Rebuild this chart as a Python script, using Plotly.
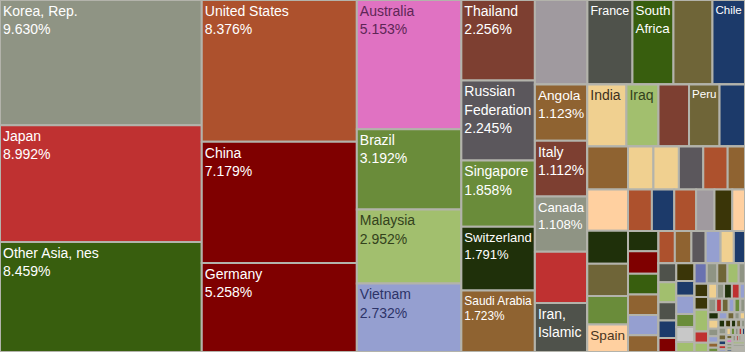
import plotly.graph_objects as go

# ---------------- data ----------------
# layout groups (strips of the treemap) and their parents
group_ids = ["root", "C1", "C2", "C3", "C4", "R", "T", "B", "A", "B2", "R2", "B3",
             "C5", "B4", "R3", "R4", "B5", "C6", "B6", "R5", "B7", "C7", "C8", "B9",
             "R6", "B10", "C9", "B11", "R7", "R8", "R9", "B12", "C10", "B13", "R10",
             "B14", "C11", "B15", "R11", "B16", "C12", "B17", "R12"]
group_parents = ["", "root", "root", "root", "root", "root", "R", "R", "B", "B", "B2", "B2",
                 "B3", "B3", "B4", "B4", "B4", "B5", "B5", "B6", "B6", "B7", "B7", "B7",
                 "B9", "B9", "B10", "B10", "B11", "B11", "B11", "B11", "B12", "B12", "B13",
                 "B13", "B14", "B14", "B15", "B15", "B16", "B16", "B17"]

countries = [
    "Korea, Rep.", "Japan", "Other Asia, nes",
    "United States", "China", "Germany",
    "Australia", "Brazil", "Malaysia", "Vietnam",
    "Thailand", "Russian Federation", "Singapore", "Switzerland", "Saudi Arabia",
    "Partner 16", "France", "South Africa", "Partner 19", "Chile",
    "Angola", "Italy", "Canada", "Partner 24", "Iran, Islamic Rep.",
    "India", "Iraq", "Partner 28", "Peru", "Partner 30",
    "Partner 31", "Partner 32", "Partner 33", "Partner 34", "Partner 35", "Spain",
    "Partner 37", "Partner 38", "Partner 39", "Partner 40", "Partner 41",
    "Partner 42", "Partner 43", "Partner 44", "Partner 45", "Partner 46", "Partner 47",
    "Partner 48", "Partner 49", "Partner 50", "Partner 51", "Partner 52", "Partner 53",
    "Partner 54", "Partner 55", "Partner 56", "Partner 57", "Partner 58", "Partner 59",
    "Partner 60", "Partner 61", "Partner 62", "Partner 63", "Partner 64",
    "Partner 65", "Partner 66", "Partner 67", "Partner 68", "Partner 69", "Partner 70",
    "Partner 71", "Partner 72", "Partner 73", "Partner 74", "Partner 75",
    "Partner 76", "Partner 77", "Partner 78", "Partner 79", "Partner 80",
    "Partner 81", "Partner 82", "Partner 83", "Partner 84", "Partner 85",
    "Partner 86", "Partner 87", "Partner 88", "Partner 89", "Partner 90", "Partner 91",
    "Partner 92", "Partner 93", "Partner 94", "Partner 95", "Partner 96",
    "Partner 97", "Partner 98", "Partner 99", "Partner 100", "Partner 101",
    "Partner 102", "Partner 103", "Partner 104", "Partner 105", "Partner 106",
    "Partner 107", "Partner 108", "Partner 109", "Partner 110", "Partner 111",
    "Partner 112", "Partner 113", "Partner 114", "Partner 115", "Partner 116",
    "Partner 117", "Partner 118", "Partner 119", "Partner 120", "Partner 121",
    "Partner 122", "Partner 123", "Partner 124", "Partner 125", "Partner 126",
    "Partner 127", "Partner 128", "Partner 129", "Partner 130", "Partner 131",
]

shares = [
    9.630, 8.992, 8.459,
    8.376, 7.179, 5.258,
    5.153, 3.192, 2.952, 2.732,
    2.256, 2.245, 1.858, 1.791, 1.723,
    1.692, 1.451, 1.321, 1.257, 1.048,
    1.123, 1.112, 1.108, 1.020, 0.980,
    0.926, 0.758, 0.722, 0.722, 0.602,
    0.669, 0.638, 0.514, 0.498, 0.443, 0.428,
    0.417, 0.417, 0.400, 0.400, 0.284,
    0.378, 0.354, 0.346, 0.290, 0.282, 0.201,
    0.236, 0.261, 0.242, 0.237, 0.237, 0.195,
    0.200, 0.203, 0.175, 0.183, 0.162, 0.137,
    0.129, 0.136, 0.123, 0.119, 0.095,
    0.125, 0.103, 0.126, 0.091, 0.105, 0.070,
    0.0958, 0.0822, 0.0798, 0.0878, 0.0495,
    0.069, 0.067, 0.115, 0.058, 0.049,
    0.050, 0.040, 0.045, 0.045, 0.030,
    0.040, 0.030, 0.035, 0.030, 0.030, 0.024,
    0.030, 0.025, 0.020, 0.015, 0.015,
    0.035, 0.030, 0.025, 0.020, 0.0166,
    0.020, 0.018, 0.016, 0.015, 0.012,
    0.020, 0.018, 0.014, 0.012, 0.008,
    0.012, 0.011, 0.010, 0.009, 0.008,
    0.010, 0.009, 0.008, 0.007, 0.006,
    0.008, 0.007, 0.006, 0.005, 0.004,
    0.015, 0.012, 0.010, 0.008, 0.0054,
]

leaf_groups = (["C1"] * 3 + ["C2"] * 3 + ["C3"] * 4 + ["C4"] * 5 + ["T"] * 5 + ["A"] * 5 +
               ["R2"] * 5 + ["C5"] * 6 + ["R3"] * 5 + ["R4"] * 6 + ["C6"] * 6 + ["R5"] * 6 +
               ["C7"] * 5 + ["C8"] * 6 + ["R6"] * 5 + ["C9"] * 5 + ["R7"] * 5 + ["R8"] * 6 +
               ["R9"] * 5 + ["C10"] * 5 + ["R10"] * 5 + ["C11"] * 5 + ["R11"] * 5 +
               ["C12"] * 5 + ["R12"] * 5 + ["B17"] * 5)

# names shown with share, names shown alone, and wrapped display names
show_share = ["Korea, Rep.", "Japan", "Other Asia, nes", "United States", "China", "Germany",
              "Australia", "Brazil", "Malaysia", "Vietnam", "Thailand", "Russian Federation",
              "Singapore", "Switzerland", "Saudi Arabia", "Angola", "Italy", "Canada"]
show_name = ["France", "South Africa", "Chile", "Iran, Islamic Rep.", "India", "Iraq", "Peru", "Spain"]
display_names = {"Russian Federation": "Russian<br>Federation", "South Africa": "South<br>Africa",
                 "Iran, Islamic Rep.": "Iran,<br>Islamic"}

# ---------------- styles ----------------
GG, RUST, RED, MAROON = "#8f9484", "#ad512d", "#bf3131", "#7f0000"
DKG, PINK, MG, LG = "#385e0e", "#e072c2", "#6a8c3a", "#a2bf6e"
LAV, BR, DGV, VDG = "#959fd0", "#7d3f31", "#5b575c", "#1f300a"
BROWN, DKGREY, LTGREY, OLIVE = "#8f6331", "#4f524b", "#a09a9f", "#6f6538"
NAVY, TAN, PEACH, DKOLIVE = "#1c3a6a", "#f0d090", "#ffd0a0", "#3a3508"
BV, SILVER = "#6a72b0", "#c8c8c8"
BORDER = "#b3b3ab"

leaf_colors = [
    GG, RED, DKG,
    RUST, MAROON, MAROON,
    PINK, MG, LG, LAV,
    BR, DGV, MG, VDG, BROWN,
    LTGREY, DKGREY, DKG, OLIVE, NAVY,
    BROWN, BR, GG, RED, DKGREY,
    TAN, LG, BR, OLIVE, NAVY,
    BROWN, PEACH, VDG, OLIVE, MG, PEACH,
    TAN, TAN, DGV, RUST, BROWN,
    RUST, NAVY, RUST, LTGREY, DKOLIVE, PEACH,
    VDG, MAROON, DKG, BROWN, LAV, BROWN,
    RUST, BROWN, DGV, LAV, TAN, NAVY,
    DKGREY, LG, DKGREY, NAVY, MAROON,
    DKOLIVE, NAVY, LAV, MG, SILVER, LG,
    BV, GG, OLIVE, LG, GG,
    DKOLIVE, DKOLIVE, LG, RED, LG,
    TAN, GG, VDG, RED, LAV,
    GG, RED, OLIVE, LAV, MG, GG,
    VDG, LAV, OLIVE, GG, TAN,
    TAN, GG, LAV, BROWN, MG,
    VDG, DKOLIVE, VDG, OLIVE, GG,
    GG, OLIVE, NAVY, RED, LAV,
    TAN, MG, GG, RED, NAVY,
    OLIVE, PINK, GG, MG, NAVY,
    GG, RED, OLIVE, LAV, MG,
    LG, GG, TAN, RED, NAVY,
]
dark_text = {PINK: "#5e2656", LG: "#33421c", LAV: "#2d3468", TAN: "#3d3020",
             PEACH: "#4a3520", SILVER: "#333333"}

FONT = "Liberation Sans, Arial, sans-serif"

# ---------------- build ----------------
leaf_text = []
for name, share in zip(countries, shares):
    disp = display_names.get(name, name)
    if name in show_share:
        leaf_text.append(f"{disp}<br>{share:.3f}%")
    elif name in show_name:
        leaf_text.append(disp)
    else:
        leaf_text.append("")

ids = group_ids + [f"leaf{i}" for i in range(len(countries))]
labels = [""] * len(group_ids) + countries
parents = group_parents + leaf_groups
values = [0] * len(group_ids) + shares
colors = [BORDER] * len(group_ids) + leaf_colors
texts = [""] * len(group_ids) + leaf_text
font_colors = ["white"] * len(group_ids) + [dark_text.get(c, "white") for c in leaf_colors]

fig = go.Figure(go.Treemap(
    ids=ids, labels=labels, parents=parents, values=values,
    branchvalues="remainder", sort=False,
    text=texts, textinfo="text", textposition="top left",
    textfont=dict(family=FONT, size=14, color=font_colors),
    marker=dict(colors=colors, line=dict(color=BORDER, width=2),
                pad=dict(t=0, l=0, r=0, b=0)),
    tiling=dict(packing="slice-dice", pad=0),
    pathbar=dict(visible=False),
    root=dict(color=BORDER),
    hoverinfo="skip",
))
fig.update_layout(width=745, height=352, margin=dict(l=0, r=0, t=0, b=0),
                  paper_bgcolor=BORDER, hovermode=False)
fig.write_html("out.html")
